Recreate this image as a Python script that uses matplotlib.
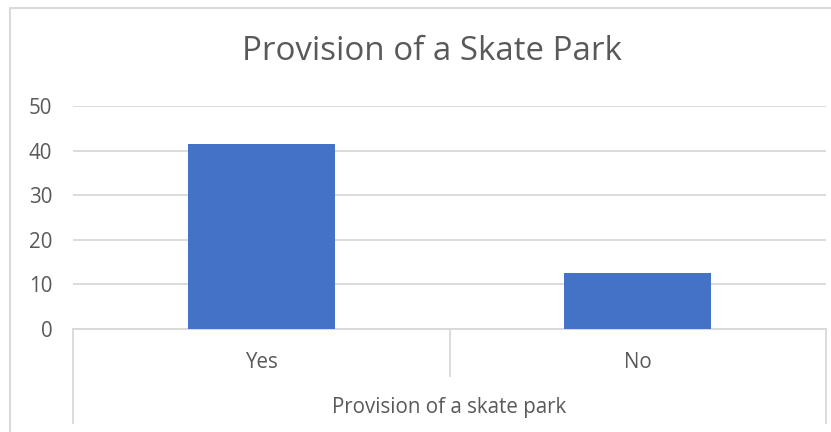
import matplotlib
matplotlib.use("Agg")
import matplotlib.pyplot as plt
import matplotlib.transforms as mtransforms
from matplotlib.lines import Line2D

categories = ["Yes", "No"]
values = [41.5, 12.5]
yticks = [0, 10, 20, 30, 40, 50]
title = "Provision of a Skate Park"
group_label = "Provision of a skate park"

plt.rcParams['font.family'] = ['Open Sans', 'DejaVu Sans']
text_color = "#595959"
grid_color = "#d9d9d9"
bar_color = "#4472c4"

W, H = 831, 432
fig = plt.figure(figsize=(W / 100, H / 100), dpi=100)
ax = fig.add_axes([73 / W, 1 - 329 / H, (826 - 73) / W, (329 - 106) / H])

x = list(range(len(categories)))
ax.bar(x, values, width=0.39, color=bar_color, zorder=3)
ax.set_xlim(-0.5, len(categories) - 0.5)
ax.set_ylim(0, 50)
ax.set_yticks(yticks)
ax.set_yticklabels([str(t) for t in yticks])
ax.grid(axis='y', color=grid_color, linewidth=1.3, zorder=0)
ax.set_xticks([])
for s in ['top', 'right', 'left']:
    ax.spines[s].set_visible(False)
ax.spines['bottom'].set_color(grid_color)
ax.spines['bottom'].set_linewidth(1.3)
ax.tick_params(axis='y', length=0, pad=15, labelsize=14.8, labelcolor=text_color)
for lbl in ax.get_yticklabels():
    lbl.set_horizontalalignment('right')

# multi-level category axis
trans = mtransforms.blended_transform_factory(ax.transData, fig.transFigure)
y0 = 1 - 329 / H
y_short = 1 - 376 / H
y_long = 1 - 423 / H
bounds = [-0.5 + i for i in range(len(categories) + 1)]
for i, b in enumerate(bounds):
    yb = y_long if i in (0, len(bounds) - 1) else y_short
    fig.add_artist(Line2D([b, b], [y0, yb], transform=trans, color=grid_color, linewidth=1.3))
for xi, c in zip(x, categories):
    fig.text(xi, 1 - 362 / H, c, transform=trans, ha='center', va='center',
             fontsize=14.8, color=text_color)
fig.text((bounds[0] + bounds[-1]) / 2, 1 - 408 / H, group_label, transform=trans,
         ha='center', va='center', fontsize=14.8, color=text_color)

fig.text(432 / W, 1 - 51 / H, title, ha='center', va='center', fontsize=23.8, color=text_color)

# chart border (top and left visible)
fig.add_artist(Line2D([9.5 / W, 9.5 / W, 1], [0, 1 - 8 / H, 1 - 8 / H],
                      transform=fig.transFigure, color=grid_color, linewidth=1.5))

fig.savefig("out.png", dpi=100, facecolor="white")
